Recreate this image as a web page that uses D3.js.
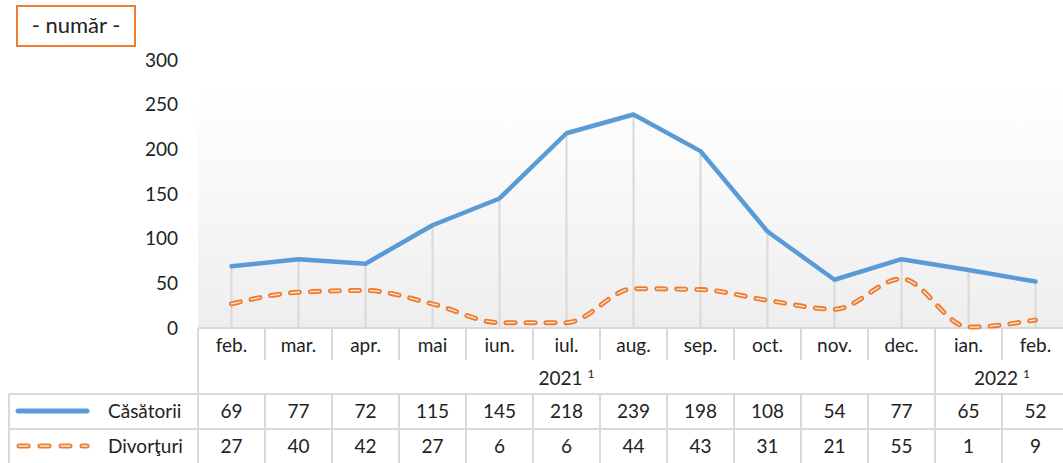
<!DOCTYPE html>
<html>
<head>
<meta charset="utf-8">
<script src="https://cdn.jsdelivr.net/npm/d3@7"></script>
<style>
  body { margin: 0; background: #fff; }
  svg text { font-family: Lato, "Open Sans", sans-serif; fill: #222; }
</style>
</head>
<body>
<svg id="chart" width="1063" height="463"></svg>
<script>
// data
const months = ["feb.", "mar.", "apr.", "mai", "iun.", "iul.", "aug.", "sep.", "oct.", "nov.", "dec.", "ian.", "feb."];
const years = [{label: "2021", from: 0, to: 10}, {label: "2022", from: 11, to: 12}];
const casatorii = [69, 77, 72, 115, 145, 218, 239, 198, 108, 54, 77, 65, 52];
const divorturi = [27, 40, 42, 27, 6, 6, 44, 43, 31, 21, 55, 1, 9];
const yTicks = [0, 50, 100, 150, 200, 250, 300];

const svg = d3.select("#chart");
const grid = "#d9d9d9";

const x = d3.scaleBand().domain(d3.range(months.length)).range([198, 198 + 13 * 67]);
const y = d3.scaleLinear().domain([0, 300]).range([328, 60]);

// plot background gradient
const grad = svg.append("defs").append("linearGradient")
  .attr("id", "bg").attr("x1", 0).attr("y1", 0).attr("x2", 0).attr("y2", 1);
grad.append("stop").attr("offset", "0%").attr("stop-color", "#ffffff");
grad.append("stop").attr("offset", "100%").attr("stop-color", "#eeeeee");
svg.append("rect").attr("x", 198).attr("y", 88).attr("width", 1063 - 198).attr("height", 328 - 88)
  .attr("fill", "url(#bg)");

// title box
svg.append("rect").attr("x", 17).attr("y", 6).attr("width", 118).attr("height", 40)
  .attr("fill", "none").attr("stroke", "#ed7d31").attr("stroke-width", 2);
svg.append("text").attr("x", 76).attr("y", 33).attr("text-anchor", "middle")
  .attr("font-size", 22).text("- număr -");

// y axis labels
const yAxis = d3.axisLeft(y).tickValues(yTicks).tickSize(0).tickPadding(0);
const ya = svg.append("g").attr("transform", "translate(178,0)").call(yAxis);
ya.select(".domain").remove();
ya.selectAll("text").style("font-family", "Lato, sans-serif").attr("font-size", 19).attr("fill", "#222");

// drop lines
svg.append("g").selectAll("line").data(months).join("line")
  .attr("x1", (d, i) => x(i) + x.bandwidth() / 2)
  .attr("x2", (d, i) => x(i) + x.bandwidth() / 2)
  .attr("y1", (d, i) => y(Math.max(casatorii[i], divorturi[i])))
  .attr("y2", 328)
  .attr("stroke", grid).attr("stroke-width", 2);

// table lines
const T = svg.append("g").attr("stroke", grid).attr("stroke-width", 2);
const xEnd = x.range()[1];
T.append("line").attr("x1", 198).attr("x2", xEnd).attr("y1", 328).attr("y2", 328);
T.append("line").attr("x1", 9).attr("x2", xEnd).attr("y1", 394).attr("y2", 394);
T.append("line").attr("x1", 9).attr("x2", xEnd).attr("y1", 429).attr("y2", 429);
T.append("line").attr("x1", 9).attr("x2", 9).attr("y1", 394).attr("y2", 463);
T.append("line").attr("x1", 198).attr("x2", 198).attr("y1", 328).attr("y2", 463);
d3.range(1, months.length).forEach(i => {
  const bx = x(i);
  const yearEdge = years.some(yr => yr.from === i);
  T.append("line").attr("x1", bx).attr("x2", bx).attr("y1", 328).attr("y2", yearEdge ? 463 : 360);
  if (!yearEdge) T.append("line").attr("x1", bx).attr("x2", bx).attr("y1", 394).attr("y2", 463);
});

// month labels
svg.append("g").selectAll("text").data(months).join("text")
  .attr("x", (d, i) => x(i) + x.bandwidth() / 2).attr("y", 352)
  .attr("text-anchor", "middle").attr("font-size", 19).text(d => d);

// year labels
years.forEach(yr => {
  const cx = (x(yr.from) + x(yr.to) + x.bandwidth()) / 2;
  const t = svg.append("text").attr("x", cx).attr("y", 385).attr("text-anchor", "middle").attr("font-size", 19);
  t.append("tspan").text(yr.label + " ");
  t.append("tspan").attr("font-size", 12).attr("dy", -7).text("1");
});

// data rows
[casatorii, divorturi].forEach((vals, r) => {
  svg.append("g").selectAll("text").data(vals).join("text")
    .attr("x", (d, i) => x(i) + x.bandwidth() / 2).attr("y", 418 + r * 35)
    .attr("text-anchor", "middle").attr("font-size", 19).text(d => d);
});

// legend
svg.append("line").attr("x1", 18).attr("x2", 87).attr("y1", 411).attr("y2", 411)
  .attr("stroke", "#5b9bd5").attr("stroke-width", 5).attr("stroke-linecap", "round");
svg.append("line").attr("x1", 19).attr("x2", 87).attr("y1", 446).attr("y2", 446)
  .attr("stroke", "#ed7d31").attr("stroke-width", 5).attr("stroke-linecap", "round").attr("stroke-dasharray", "9 12");
svg.append("line").attr("x1", 19).attr("x2", 87).attr("y1", 446).attr("y2", 446)
  .attr("stroke", "#fde9dc").attr("stroke-width", 1.3).attr("stroke-linecap", "round").attr("stroke-dasharray", "9 12");
svg.append("text").attr("x", 108).attr("y", 418).attr("font-size", 19).text("Căsătorii");
svg.append("text").attr("x", 108).attr("y", 453).attr("font-size", 19).text("Divorţuri");

// series lines
const line = d3.line().x((d, i) => x(i) + x.bandwidth() / 2).y(d => y(d));
const smooth = d3.line().x((d, i) => x(i) + x.bandwidth() / 2).y(d => y(d)).curve(d3.curveMonotoneX);
svg.append("path").attr("d", line(casatorii)).attr("fill", "none")
  .attr("stroke", "#5b9bd5").attr("stroke-width", 4.5).attr("stroke-linejoin", "round").attr("stroke-linecap", "round");
svg.append("path").attr("d", smooth(divorturi)).attr("fill", "none")
  .attr("stroke", "#ed7d31").attr("stroke-width", 5).attr("stroke-linejoin", "round").attr("stroke-linecap", "round")
  .attr("stroke-dasharray", "9 11");
svg.append("path").attr("d", smooth(divorturi)).attr("fill", "none")
  .attr("stroke", "#fde9dc").attr("stroke-width", 1.3).attr("stroke-linecap", "round")
  .attr("stroke-dasharray", "9 11");
</script>
</body>
</html>
